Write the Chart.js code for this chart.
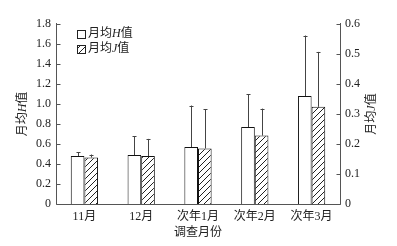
<!DOCTYPE html>
<html>
<head>
<meta charset="utf-8">
<script src="https://cdn.jsdelivr.net/npm/chart.js@4"></script>
<style>
  html, body { margin: 0; padding: 0; background: #fff; }
  #wrap { width: 397px; height: 246px; }
</style>
</head>
<body>
<div id="wrap"><canvas id="chart" width="397" height="246"></canvas></div>
<script>
// data
const months = ['11月', '12月', '次年1月', '次年2月', '次年3月'];
const hMean  = [0.48, 0.49, 0.57, 0.77, 1.08];
const hUpper = [0.52, 0.68, 0.985, 1.10, 1.685];   // mean + SD
const jMean  = [0.155, 0.16, 0.185, 0.228, 0.324];
const jUpper = [0.165, 0.217, 0.316, 0.318, 0.507];
const hTicks = [0, 0.2, 0.4, 0.6, 0.8, 1.0, 1.2, 1.4, 1.6, 1.8];
const jTicks = [0, 0.1, 0.2, 0.3, 0.4, 0.5, 0.6];

const SERIF = '"Liberation Serif", "Noto Sans CJK SC", serif';
const AXIS = '#555';

// hatch pattern for J bars
function makeHatch() {
    const c = document.createElement('canvas');
    c.width = 6; c.height = 6;
    const g = c.getContext('2d');
    g.fillStyle = '#fff';
    g.fillRect(0, 0, 6, 6);
    g.strokeStyle = '#222';
    g.lineWidth = 1;
    g.beginPath();
    g.moveTo(0, 6); g.lineTo(6, 0);
    g.moveTo(-3, 3); g.lineTo(3, -3);
    g.moveTo(3, 9); g.lineTo(9, 3);
    g.stroke();
    return g.createPattern(c, 'repeat');
}
const hatch = makeHatch();

// mixed upright / italic text helper
function drawParts(ctx, parts, x, y, size) {
    parts.forEach(p => {
        ctx.font = (p[1] ? 'italic ' : '') + size + 'px ' + SERIF;
        ctx.fillText(p[0], x, y);
        x += ctx.measureText(p[0]).width;
    });
}
function partsWidth(ctx, parts, size) {
    let w = 0;
    parts.forEach(p => {
        ctx.font = (p[1] ? 'italic ' : '') + size + 'px ' + SERIF;
        w += ctx.measureText(p[0]).width;
    });
    return w;
}

const extras = {
    id: 'extras',
    afterDatasetsDraw(chart) {
        const ctx = chart.ctx;
        const area = chart.chartArea;
        const y = chart.scales.y, y1 = chart.scales.y1;
        ctx.save();

        // error bars (upper only)
        ctx.strokeStyle = '#444';
        ctx.lineWidth = 1;
        [[0, hMean, hUpper, y], [1, jMean, jUpper, y1]].forEach(([di, mean, upper, sc]) => {
            const meta = chart.getDatasetMeta(di);
            meta.data.forEach((bar, i) => {
                const x = Math.round(bar.x) + 0.5;
                const top = sc.getPixelForValue(upper[i]);
                const base = sc.getPixelForValue(mean[i]);
                ctx.beginPath();
                ctx.moveTo(x, base);
                ctx.lineTo(x, top);
                ctx.moveTo(x - 2, Math.round(top) + 0.5);
                ctx.lineTo(x + 2, Math.round(top) + 0.5);
                ctx.stroke();
            });
        });

        // axis lines and inward ticks
        ctx.strokeStyle = AXIS;
        ctx.beginPath();
        const L = Math.round(area.left) + 0.5, R = Math.round(area.right) + 0.5, B = Math.round(area.bottom) + 0.5;
        ctx.moveTo(L, area.top - 1); ctx.lineTo(L, B);
        ctx.lineTo(R, B); ctx.lineTo(R, area.top - 1);
        hTicks.forEach(v => {
            const py = Math.round(y.getPixelForValue(v)) + 0.5;
            ctx.moveTo(L, py); ctx.lineTo(L + 4, py);
        });
        jTicks.forEach(v => {
            const py = Math.round(y1.getPixelForValue(v)) + 0.5;
            ctx.moveTo(R, py); ctx.lineTo(R - 4, py);
        });
        ctx.stroke();

        ctx.fillStyle = '#222';
        ctx.textBaseline = 'middle';
        const size = 12;
        const midY = (area.top + area.bottom) / 2;

        // left axis title
        const lt = [['月均', false], ['H', true], ['值', false]];
        ctx.save();
        ctx.translate(area.left - 33, midY);
        ctx.rotate(-Math.PI / 2);
        drawParts(ctx, lt, -partsWidth(ctx, lt, size) / 2, 0, size);
        ctx.restore();

        // right axis title
        const rt = [['月均', false], ['J', true], ['值', false]];
        ctx.save();
        ctx.translate(area.right + 32, midY);
        ctx.rotate(-Math.PI / 2);
        drawParts(ctx, rt, -partsWidth(ctx, rt, size) / 2, 0, size);
        ctx.restore();

        // legend
        const lx = area.left + 21;
        const rows = [
            ['#fff', [['月均', false], ['H', true], ['值', false]]],
            [hatch, [['月均', false], ['J', true], ['值', false]]]
        ];
        rows.forEach((r, k) => {
            const cy = area.top + 10 + k * 15;
            ctx.fillStyle = r[0];
            ctx.fillRect(lx, cy - 4, 8, 8);
            ctx.strokeStyle = '#222';
            ctx.strokeRect(lx + 0.5, Math.round(cy - 4) + 0.5, 8, 8);
            ctx.fillStyle = '#222';
            drawParts(ctx, r[1], lx + 11, cy, size);
        });

        // x axis title
        ctx.textAlign = 'center';
        ctx.font = size + 'px ' + SERIF;
        ctx.fillText('调查月份', (area.left + area.right) / 2, area.bottom + 29);
        ctx.restore();
    }
};

new Chart(document.getElementById('chart'), {
    type: 'bar',
    data: {
        labels: months,
        datasets: [{
            label: '月均H值',
            data: hMean,
            yAxisID: 'y',
            backgroundColor: '#fff',
            borderColor: '#111',
            borderWidth: 1,
            categoryPercentage: 0.48,
            barPercentage: 1
        }, {
            label: '月均J值',
            data: jMean,
            yAxisID: 'y1',
            backgroundColor: hatch,
            borderColor: '#111',
            borderWidth: 1,
            categoryPercentage: 0.48,
            barPercentage: 1
        }]
    },
    options: {
        responsive: false,
        animation: false,
        layout: { padding: { top: 24, left: 0, right: 0, bottom: 0 } },
        plugins: { legend: { display: false }, tooltip: { enabled: false } },
        scales: {
            x: {
                grid: { display: false, drawTicks: false },
                border: { display: false },
                ticks: { color: '#222', font: { family: SERIF, size: 12 }, padding: 6, maxRotation: 0 },
                afterFit: s => { s.height = 42; }
            },
            y: {
                position: 'left',
                min: 0, max: 1.8,
                afterBuildTicks: s => { s.ticks = hTicks.map(v => ({ value: v })); },
                grid: { display: false, drawTicks: false },
                border: { display: false },
                ticks: {
                    color: '#222', font: { family: SERIF, size: 12 }, padding: 5,
                    callback: v => v === 0 ? '0' : v.toFixed(1)
                },
                afterFit: s => { s.width = 56; }
            },
            y1: {
                position: 'right',
                min: 0, max: 0.6,
                afterBuildTicks: s => { s.ticks = jTicks.map(v => ({ value: v })); },
                grid: { display: false, drawTicks: false },
                border: { display: false },
                ticks: {
                    color: '#222', font: { family: SERIF, size: 12 }, padding: 5,
                    callback: v => v === 0 ? '0' : v.toFixed(1)
                },
                afterFit: s => { s.width = 57; }
            }
        }
    },
    plugins: [extras]
});
</script>
</body>
</html>
